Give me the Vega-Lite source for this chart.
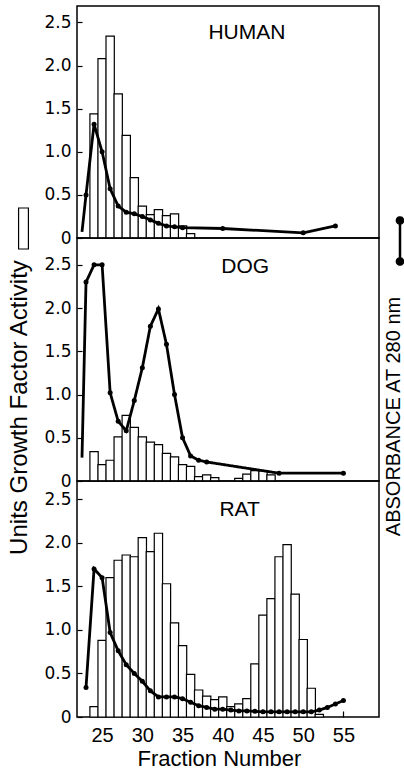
{
  "$schema": "https://vega.github.io/schema/vega-lite/v6.json",
  "background": "white",
  "padding": {"left": 2, "top": 5, "right": 0, "bottom": 0},
  "spacing": 0,
  "bounds": "flush",
  "config": {
    "font": "Liberation Sans",
    "view": {"stroke": "black", "strokeWidth": 1.5},
    "axis": {"domain": false, "grid": false, "labelColor": "black", "titleColor": "black", "titleFontWeight": "normal", "tickColor": "black", "tickWidth": 1.2},
    "axisY": {"labelFont": "DejaVu Sans"},
    "legend": {"padding": 0, "offset": 0}
  },
  "datasets": {
    "units": [
      {"species": "HUMAN", "fraction": 24, "units": 1.44},
      {"species": "HUMAN", "fraction": 25, "units": 2.08},
      {"species": "HUMAN", "fraction": 26, "units": 2.34},
      {"species": "HUMAN", "fraction": 27, "units": 1.67},
      {"species": "HUMAN", "fraction": 28, "units": 1.19},
      {"species": "HUMAN", "fraction": 29, "units": 0.70},
      {"species": "HUMAN", "fraction": 30, "units": 0.37},
      {"species": "HUMAN", "fraction": 31, "units": 0.27},
      {"species": "HUMAN", "fraction": 32, "units": 0.33},
      {"species": "HUMAN", "fraction": 33, "units": 0.26},
      {"species": "HUMAN", "fraction": 34, "units": 0.28},
      {"species": "HUMAN", "fraction": 35, "units": 0.14},
      {"species": "HUMAN", "fraction": 36, "units": 0.05},
      {"species": "DOG", "fraction": 24, "units": 0.34},
      {"species": "DOG", "fraction": 25, "units": 0.19},
      {"species": "DOG", "fraction": 26, "units": 0.24},
      {"species": "DOG", "fraction": 27, "units": 0.51},
      {"species": "DOG", "fraction": 28, "units": 0.76},
      {"species": "DOG", "fraction": 29, "units": 0.62},
      {"species": "DOG", "fraction": 30, "units": 0.51},
      {"species": "DOG", "fraction": 31, "units": 0.45},
      {"species": "DOG", "fraction": 32, "units": 0.42},
      {"species": "DOG", "fraction": 33, "units": 0.32},
      {"species": "DOG", "fraction": 34, "units": 0.28},
      {"species": "DOG", "fraction": 35, "units": 0.19},
      {"species": "DOG", "fraction": 36, "units": 0.17},
      {"species": "DOG", "fraction": 37, "units": 0.05},
      {"species": "DOG", "fraction": 38, "units": 0.07},
      {"species": "DOG", "fraction": 39, "units": 0.04},
      {"species": "DOG", "fraction": 42, "units": 0.03},
      {"species": "DOG", "fraction": 43, "units": 0.08},
      {"species": "DOG", "fraction": 44, "units": 0.12},
      {"species": "DOG", "fraction": 45, "units": 0.12},
      {"species": "DOG", "fraction": 46, "units": 0.07},
      {"species": "RAT", "fraction": 24, "units": 0.12},
      {"species": "RAT", "fraction": 25, "units": 0.88},
      {"species": "RAT", "fraction": 26, "units": 1.60},
      {"species": "RAT", "fraction": 27, "units": 1.80},
      {"species": "RAT", "fraction": 28, "units": 1.86},
      {"species": "RAT", "fraction": 29, "units": 1.84},
      {"species": "RAT", "fraction": 30, "units": 2.06},
      {"species": "RAT", "fraction": 31, "units": 1.90},
      {"species": "RAT", "fraction": 32, "units": 2.11},
      {"species": "RAT", "fraction": 33, "units": 1.53},
      {"species": "RAT", "fraction": 34, "units": 1.08},
      {"species": "RAT", "fraction": 35, "units": 0.82},
      {"species": "RAT", "fraction": 36, "units": 0.49},
      {"species": "RAT", "fraction": 37, "units": 0.31},
      {"species": "RAT", "fraction": 38, "units": 0.24},
      {"species": "RAT", "fraction": 39, "units": 0.20},
      {"species": "RAT", "fraction": 40, "units": 0.23},
      {"species": "RAT", "fraction": 41, "units": 0.12},
      {"species": "RAT", "fraction": 42, "units": 0.15},
      {"species": "RAT", "fraction": 43, "units": 0.21},
      {"species": "RAT", "fraction": 44, "units": 0.61},
      {"species": "RAT", "fraction": 45, "units": 1.17},
      {"species": "RAT", "fraction": 46, "units": 1.36},
      {"species": "RAT", "fraction": 47, "units": 1.84},
      {"species": "RAT", "fraction": 48, "units": 1.98},
      {"species": "RAT", "fraction": 49, "units": 1.41},
      {"species": "RAT", "fraction": 50, "units": 0.89},
      {"species": "RAT", "fraction": 51, "units": 0.33},
      {"species": "RAT", "fraction": 52, "units": 0.03}
    ],
    "a280": [
      {"species": "HUMAN", "fraction": 22.5, "a280": 0.07},
      {"species": "HUMAN", "fraction": 23, "a280": 0.50},
      {"species": "HUMAN", "fraction": 24, "a280": 1.32},
      {"species": "HUMAN", "fraction": 25, "a280": 1.00},
      {"species": "HUMAN", "fraction": 26, "a280": 0.57},
      {"species": "HUMAN", "fraction": 27, "a280": 0.37},
      {"species": "HUMAN", "fraction": 28, "a280": 0.30},
      {"species": "HUMAN", "fraction": 29, "a280": 0.28},
      {"species": "HUMAN", "fraction": 30, "a280": 0.25},
      {"species": "HUMAN", "fraction": 31, "a280": 0.21},
      {"species": "HUMAN", "fraction": 32, "a280": 0.17},
      {"species": "HUMAN", "fraction": 33, "a280": 0.14},
      {"species": "HUMAN", "fraction": 34, "a280": 0.13},
      {"species": "HUMAN", "fraction": 35, "a280": 0.12},
      {"species": "HUMAN", "fraction": 40, "a280": 0.11},
      {"species": "HUMAN", "fraction": 50, "a280": 0.06},
      {"species": "HUMAN", "fraction": 54, "a280": 0.14},
      {"species": "DOG", "fraction": 22.5, "a280": 0.27},
      {"species": "DOG", "fraction": 23, "a280": 2.30},
      {"species": "DOG", "fraction": 24, "a280": 2.50},
      {"species": "DOG", "fraction": 25, "a280": 2.50},
      {"species": "DOG", "fraction": 26, "a280": 1.02},
      {"species": "DOG", "fraction": 27, "a280": 0.69},
      {"species": "DOG", "fraction": 28, "a280": 0.58},
      {"species": "DOG", "fraction": 29, "a280": 0.93},
      {"species": "DOG", "fraction": 30, "a280": 1.31},
      {"species": "DOG", "fraction": 31, "a280": 1.79},
      {"species": "DOG", "fraction": 32, "a280": 1.99},
      {"species": "DOG", "fraction": 33, "a280": 1.58},
      {"species": "DOG", "fraction": 34, "a280": 1.00},
      {"species": "DOG", "fraction": 35, "a280": 0.50},
      {"species": "DOG", "fraction": 36, "a280": 0.29},
      {"species": "DOG", "fraction": 37, "a280": 0.24},
      {"species": "DOG", "fraction": 38, "a280": 0.22},
      {"species": "DOG", "fraction": 47, "a280": 0.09},
      {"species": "DOG", "fraction": 55, "a280": 0.09},
      {"species": "RAT", "fraction": 23, "a280": 0.34},
      {"species": "RAT", "fraction": 24, "a280": 1.70},
      {"species": "RAT", "fraction": 25, "a280": 1.60},
      {"species": "RAT", "fraction": 26, "a280": 0.97},
      {"species": "RAT", "fraction": 27, "a280": 0.76},
      {"species": "RAT", "fraction": 28, "a280": 0.60},
      {"species": "RAT", "fraction": 29, "a280": 0.50},
      {"species": "RAT", "fraction": 30, "a280": 0.41},
      {"species": "RAT", "fraction": 31, "a280": 0.30},
      {"species": "RAT", "fraction": 32, "a280": 0.23},
      {"species": "RAT", "fraction": 33, "a280": 0.23},
      {"species": "RAT", "fraction": 34, "a280": 0.23},
      {"species": "RAT", "fraction": 35, "a280": 0.21},
      {"species": "RAT", "fraction": 36, "a280": 0.17},
      {"species": "RAT", "fraction": 37, "a280": 0.13},
      {"species": "RAT", "fraction": 38, "a280": 0.11},
      {"species": "RAT", "fraction": 39, "a280": 0.09},
      {"species": "RAT", "fraction": 40, "a280": 0.09},
      {"species": "RAT", "fraction": 41, "a280": 0.08},
      {"species": "RAT", "fraction": 42, "a280": 0.07},
      {"species": "RAT", "fraction": 43, "a280": 0.07},
      {"species": "RAT", "fraction": 44, "a280": 0.065},
      {"species": "RAT", "fraction": 45, "a280": 0.06},
      {"species": "RAT", "fraction": 46, "a280": 0.06},
      {"species": "RAT", "fraction": 47, "a280": 0.06},
      {"species": "RAT", "fraction": 48, "a280": 0.06},
      {"species": "RAT", "fraction": 49, "a280": 0.06},
      {"species": "RAT", "fraction": 50, "a280": 0.06},
      {"species": "RAT", "fraction": 51, "a280": 0.06},
      {"species": "RAT", "fraction": 52, "a280": 0.08},
      {"species": "RAT", "fraction": 53, "a280": 0.11},
      {"species": "RAT", "fraction": 54, "a280": 0.15},
      {"species": "RAT", "fraction": 55, "a280": 0.19}
    ],
    "labels": [
      {"species": "HUMAN"},
      {"species": "DOG"},
      {"species": "RAT"}
    ]
  },
  "vconcat": [
    {
      "width": 302,
      "height": 232,
      "layer": [
        {
          "data": {"name": "units"},
          "transform": [{"filter": "datum.species === 'HUMAN'"}],
          "mark": {"type": "bar", "width": 8.3, "fill": "white", "stroke": "black", "strokeWidth": 1.2},
          "encoding": {
            "x": {"field": "fraction", "type": "quantitative", "scale": {"domain": [22.5, 58.8], "nice": false, "zero": false}, "axis": null},
            "y": {"field": "units", "type": "quantitative", "scale": {"domain": [0, 2.69], "nice": false},
              "axis": {"values": [0, 0.5, 1, 1.5, 2, 2.5], "labelExpr": "datum.value == 0 ? '0' : format(datum.value, '.1f')", "labelFontSize": 17, "tickSize": -5, "labelPadding": 11, "title": null}}
          }
        },
        {
          "data": {"name": "a280"},
          "transform": [{"filter": "datum.species === 'HUMAN'"}],
          "mark": {"type": "line", "color": "black", "strokeWidth": 2.8, "clip": true},
          "encoding": {
            "x": {"field": "fraction", "type": "quantitative", "axis": null},
            "y": {"field": "a280", "type": "quantitative",
              "axis": {"values": [0, 0.5, 1, 1.5, 2, 2.5], "labelExpr": "datum.value == 0 ? '0' : format(datum.value, '.1f')", "labelFontSize": 17, "tickSize": -5, "labelPadding": 11, "title": null}}
          }
        },
        {
          "data": {"name": "a280"},
          "transform": [{"filter": "datum.species === 'HUMAN' && datum.fraction >= 23"}],
          "mark": {"type": "point", "filled": true, "color": "black", "size": 25, "opacity": 1},
          "encoding": {
            "x": {"field": "fraction", "type": "quantitative", "axis": null},
            "y": {"field": "a280", "type": "quantitative",
              "axis": {"values": [0, 0.5, 1, 1.5, 2, 2.5], "labelExpr": "datum.value == 0 ? '0' : format(datum.value, '.1f')", "labelFontSize": 17, "tickSize": -5, "labelPadding": 11, "title": null}}
          }
        },
        {
          "data": {"name": "labels"},
          "transform": [{"filter": "datum.species === 'HUMAN'"}],
          "mark": {"type": "text", "fontSize": 21, "baseline": "alphabetic", "align": "center", "color": "black"},
          "encoding": {
            "x": {"datum": 43, "type": "quantitative", "axis": null},
            "y": {"datum": 2.31, "type": "quantitative",
              "axis": {"values": [0, 0.5, 1, 1.5, 2, 2.5], "labelExpr": "datum.value == 0 ? '0' : format(datum.value, '.1f')", "labelFontSize": 17, "tickSize": -5, "labelPadding": 11, "title": null}},
            "text": {"field": "species"}
          }
        }
      ]
    },
    {
      "width": 302,
      "height": 243,
      "resolve": {"axis": {"y": "independent"}},
      "layer": [
        {
          "data": {"name": "units"},
          "transform": [{"filter": "datum.species === 'DOG'"}],
          "mark": {"type": "bar", "width": 8.3, "stroke": "black", "strokeWidth": 1.2},
          "encoding": {
            "x": {"field": "fraction", "type": "quantitative", "scale": {"domain": [22.5, 58.8], "nice": false, "zero": false}, "axis": null},
            "y": {"field": "units", "type": "quantitative", "scale": {"domain": [0, 2.81], "nice": false},
              "axis": {"values": [0, 0.5, 1, 1.5, 2, 2.5], "labelExpr": "datum.value == 0 ? '0' : format(datum.value, '.1f')", "labelFontSize": 17, "tickSize": -5, "labelPadding": 11,
                "title": "Units Growth Factor Activity", "titleFontSize": 24, "titleAngle": 270, "titleX": -51, "titleY": 169, "titleBaseline": "alphabetic", "titleAlign": "center"}},
            "fill": {"datum": "Units Growth Factor Activity", "type": "nominal", "scale": {"range": ["white"]},
              "legend": {"orient": "none", "legendX": -75, "legendY": 201, "title": null, "labelExpr": "''", "labelOffset": 0, "symbolType": "M-0.24,-1H0.24V1H-0.24Z", "symbolSize": 1681, "symbolStrokeColor": "black", "symbolStrokeWidth": 1.2}}
          }
        },
        {
          "data": {"name": "a280"},
          "transform": [{"filter": "datum.species === 'DOG'"}],
          "mark": {"type": "line", "color": "black", "strokeWidth": 2.8, "clip": true},
          "encoding": {
            "x": {"field": "fraction", "type": "quantitative", "axis": null},
            "y": {"field": "a280", "type": "quantitative",
              "axis": {"orient": "right", "labels": false, "ticks": false, "domain": false, "title": "ABSORBANCE AT 280 nm", "titleFontSize": 20, "titleAngle": 270, "titleX": 20.5, "titleY": 178, "titleBaseline": "alphabetic", "titleAlign": "center"}},
            "strokeDash": {"datum": "ABSORBANCE AT 280 nm", "type": "nominal", "scale": {"range": [[1, 0]]},
              "legend": {"orient": "none", "legendX": 301, "legendY": 213, "title": null, "labelExpr": "''", "labelOffset": 0, "symbolType": "M0,-1V1M-0.15,-1A0.15,0.15 0 1 1 0.15,-1A0.15,0.15 0 1 1 -0.15,-1ZM-0.15,1A0.15,0.15 0 1 1 0.15,1A0.15,0.15 0 1 1 -0.15,1Z", "symbolSize": 1681, "symbolStrokeColor": "black", "symbolFillColor": "black", "symbolStrokeWidth": 2.5}}
          }
        },
        {
          "data": {"name": "a280"},
          "transform": [{"filter": "datum.species === 'DOG' && datum.fraction >= 23"}],
          "mark": {"type": "point", "filled": true, "color": "black", "size": 25, "opacity": 1},
          "encoding": {
            "x": {"field": "fraction", "type": "quantitative", "axis": null},
            "y": {"field": "a280", "type": "quantitative", "axis": null}
          }
        },
        {
          "data": {"name": "labels"},
          "transform": [{"filter": "datum.species === 'DOG'"}],
          "mark": {"type": "text", "fontSize": 21, "baseline": "alphabetic", "align": "center", "color": "black"},
          "encoding": {
            "x": {"datum": 42.8, "type": "quantitative", "axis": null},
            "y": {"datum": 2.4, "type": "quantitative", "axis": null},
            "text": {"field": "species"}
          }
        }
      ]
    },
    {
      "width": 302,
      "height": 236,
      "layer": [
        {
          "data": {"name": "units"},
          "transform": [{"filter": "datum.species === 'RAT'"}],
          "mark": {"type": "bar", "width": 8.3, "fill": "white", "stroke": "black", "strokeWidth": 1.2},
          "encoding": {
            "x": {"field": "fraction", "type": "quantitative", "scale": {"domain": [22.5, 58.8], "nice": false, "zero": false},
              "axis": {"values": [25, 30, 35, 40, 45, 50, 55], "labelFontSize": 20, "tickSize": -6, "labelPadding": 14, "labelBaseline": "top",
                "title": "Fraction Number", "titleFontSize": 22, "titleX": 142, "titleY": 48, "titleBaseline": "alphabetic", "titleAlign": "center"}},
            "y": {"field": "units", "type": "quantitative", "scale": {"domain": [0, 2.71], "nice": false},
              "axis": {"values": [0, 0.5, 1, 1.5, 2, 2.5], "labelExpr": "datum.value == 0 ? '0' : format(datum.value, '.1f')", "labelFontSize": 17, "tickSize": -5, "labelPadding": 11, "title": null}}
          }
        },
        {
          "data": {"name": "a280"},
          "transform": [{"filter": "datum.species === 'RAT'"}],
          "mark": {"type": "line", "color": "black", "strokeWidth": 2.8, "clip": true},
          "encoding": {
            "x": {"field": "fraction", "type": "quantitative",
              "axis": {"values": [25, 30, 35, 40, 45, 50, 55], "labelFontSize": 20, "tickSize": -6, "labelPadding": 14, "labelBaseline": "top",
                "title": "Fraction Number", "titleFontSize": 22, "titleX": 142, "titleY": 48, "titleBaseline": "alphabetic", "titleAlign": "center"}},
            "y": {"field": "a280", "type": "quantitative",
              "axis": {"values": [0, 0.5, 1, 1.5, 2, 2.5], "labelExpr": "datum.value == 0 ? '0' : format(datum.value, '.1f')", "labelFontSize": 17, "tickSize": -5, "labelPadding": 11, "title": null}}
          }
        },
        {
          "data": {"name": "a280"},
          "transform": [{"filter": "datum.species === 'RAT' && datum.fraction >= 23"}],
          "mark": {"type": "point", "filled": true, "color": "black", "size": 25, "opacity": 1},
          "encoding": {
            "x": {"field": "fraction", "type": "quantitative",
              "axis": {"values": [25, 30, 35, 40, 45, 50, 55], "labelFontSize": 20, "tickSize": -6, "labelPadding": 14, "labelBaseline": "top",
                "title": "Fraction Number", "titleFontSize": 22, "titleX": 142, "titleY": 48, "titleBaseline": "alphabetic", "titleAlign": "center"}},
            "y": {"field": "a280", "type": "quantitative",
              "axis": {"values": [0, 0.5, 1, 1.5, 2, 2.5], "labelExpr": "datum.value == 0 ? '0' : format(datum.value, '.1f')", "labelFontSize": 17, "tickSize": -5, "labelPadding": 11, "title": null}}
          }
        },
        {
          "data": {"name": "labels"},
          "transform": [{"filter": "datum.species === 'RAT'"}],
          "mark": {"type": "text", "fontSize": 21, "baseline": "alphabetic", "align": "center", "color": "black"},
          "encoding": {
            "x": {"datum": 42.1, "type": "quantitative",
              "axis": {"values": [25, 30, 35, 40, 45, 50, 55], "labelFontSize": 20, "tickSize": -6, "labelPadding": 14, "labelBaseline": "top",
                "title": "Fraction Number", "titleFontSize": 22, "titleX": 142, "titleY": 48, "titleBaseline": "alphabetic", "titleAlign": "center"}},
            "y": {"datum": 2.31, "type": "quantitative",
              "axis": {"values": [0, 0.5, 1, 1.5, 2, 2.5], "labelExpr": "datum.value == 0 ? '0' : format(datum.value, '.1f')", "labelFontSize": 17, "tickSize": -5, "labelPadding": 11, "title": null}},
            "text": {"field": "species"}
          }
        }
      ]
    }
  ]
}
